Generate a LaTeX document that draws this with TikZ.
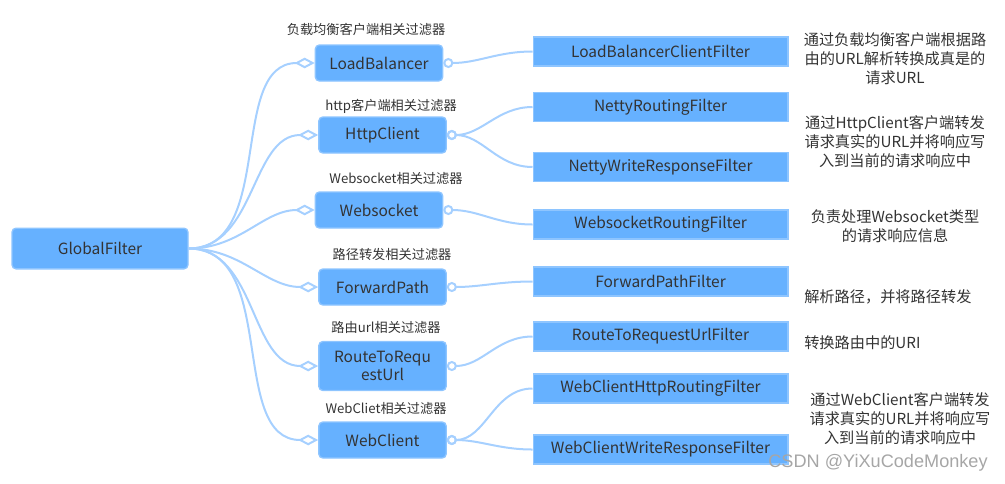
\documentclass[tikz,border=0pt]{standalone}
\usepackage{fontspec}
\setmainfont{Noto Sans CJK SC}
\newfontfamily\wmfont{Liberation Sans}
\usetikzlibrary{positioning, arrows.meta, shapes}

\definecolor{boxblue}{HTML}{66B1FF}
\definecolor{boxedge}{HTML}{8EC5FF}
\definecolor{linkblue}{HTML}{A6D0FF}
\definecolor{txtgray}{HTML}{333333}

\begin{document}
\begin{tikzpicture}[
    % GLOBAL CFG
    x=0.75pt, y=-0.75pt,
    font=\fontsize{11.6pt}{14pt}\selectfont,
    text=txtgray,
    % Styles
    rootbox/.style={% For the root box
        rectangle,
        rounded corners=3pt,
        draw=boxedge,
        line width=1pt,
        fill=boxblue,
        minimum width=132pt,
        minimum height=30.5pt,
        inner sep=0pt,
    },
    midbox/.style={% For the filter groups
        rectangle,
        rounded corners=3pt,
        draw=boxedge,
        line width=1pt,
        fill=boxblue,
        minimum width=95.5pt,
        minimum height=27pt,
        inner sep=0pt,
    },
    leafbox/.style={% For the concrete filters
        rectangle,
        draw=boxedge,
        line width=1pt,
        fill=boxblue,
        minimum width=191pt,
        minimum height=21.75pt,
        inner sep=0pt,
    },
    grp/.style={% Group captions above the boxes
        font=\fontsize{9.9pt}{12pt}\selectfont,
    },
    note/.style={% Descriptions on the right
        font=\fontsize{11.4pt}{14.25pt}\selectfont,
        inner sep=0pt,
    },
    link/.style={% Root to group
        draw=linkblue,
        line width=1.5pt,
        -{Diamond[open,length=15pt,width=8pt]},
    },
    sublink/.style={% Group to filter
        draw=linkblue,
        line width=1.5pt,
        {Circle[open,length=7.5pt]}-,
    },
    every text node part/.style={
        align=center
    },
    ]
    \useasboundingbox (0,0) rectangle (1005,483);

    % Draw root
    \node [rootbox] (root) at (100,248.5) {GlobalFilter};

    % Draw groups named as basis
    \node [midbox] (lb) at (379,63) {LoadBalancer};
    \node [midbox] (hc) at (382.5,135) {HttpClient};
    \node [midbox] (ws) at (379,210) {Websocket};
    \node [midbox] (fp) at (382.5,287) {ForwardPath};
    \node [midbox, minimum height=36.75pt] (rt) at (382.5,366) {RouteToRequ\\estUrl};
    \node [midbox] (wc) at (382.5,440) {WebClient};

    % Group captions
    \node [grp] (lbl-lb) at (366,29) {负载均衡客户端相关过滤器};
    \node [grp] (lbl-hc) at (391,106) {http客户端相关过滤器};
    \node [grp] (lbl-ws) at (396,179) {Websocket相关过滤器};
    \node [grp] (lbl-fp) at (392,254) {路径转发相关过滤器};
    \node [grp] (lbl-rt) at (386,328) {路由url相关过滤器};
    \node [grp] (lbl-wc) at (386,409) {WebCliet相关过滤器};

    % Draw filters
    \node [leafbox] (lbcf) at (660.5,51.5) {LoadBalancerClientFilter};
    \node [leafbox] (nrf) at (660.5,107) {NettyRoutingFilter};
    \node [leafbox] (nwrf) at (660.5,167) {NettyWriteResponseFilter};
    \node [leafbox] (wsrf) at (660.5,224.5) {WebsocketRoutingFilter};
    \node [leafbox] (fpf) at (660.5,281.5) {ForwardPathFilter};
    \node [leafbox] (rturf) at (660.5,336.5) {RouteToRequestUrlFilter};
    \node [leafbox] (wchrf) at (660.5,388.5) {WebClientHttpRoutingFilter};
    \node [leafbox] (wcwrf) at (660.5,449.5) {WebClientWriteResponseFilter};

    % Descriptions
    \node [note] (d-lb) at (895,58.5) {通过负载均衡客户端根据路\\由的URL解析转换成真是的\\请求URL};
    \node [note] (d-hc) at (895,142) {通过HttpClient客户端转发\\请求真实的URL并将响应写\\入到当前的请求响应中};
    \node [note] (d-ws) at (895,226) {负责处理Websocket类型\\的请求响应信息};
    \node [note, anchor=west] (d-fp) at (804,296.5) {解析路径，并将路径转发};
    \node [note, anchor=west] (d-rt) at (804,342.5) {转换路由中的URI};
    \node [note] (d-wc) at (900,418.5) {通过WebClient客户端转发\\请求真实的URL并将响应写\\入到当前的请求响应中};

    % Watermark
    \node [text=gray!70, font=\wmfont\fontsize{13.6pt}{15pt}\selectfont, inner sep=0pt] (wm) at (878,463) {CSDN @YiXuCodeMonkey};

    % Root to groups
    \foreach \g in {lb, hc, ws, fp, rt, wc}
        \draw [link] (root.east) to[out=0, in=180] (\g.west);

    % Groups to filters
    \draw [sublink] (lb.east) to[out=0, in=180] (lbcf.west);
    \draw [sublink] (hc.east) to[out=0, in=180] (nrf.west);
    \draw [sublink] (hc.east) to[out=0, in=180] (nwrf.west);
    \draw [sublink] (ws.east) to[out=0, in=180] (wsrf.west);
    \draw [sublink] (fp.east) to[out=0, in=180] (fpf.west);
    \draw [sublink] (rt.east) to[out=0, in=180] (rturf.west);
    \draw [sublink] (wc.east) to[out=0, in=180] (wchrf.west);
    \draw [sublink] (wc.east) to[out=0, in=180] (wcwrf.west);

\end{tikzpicture}
\end{document}
